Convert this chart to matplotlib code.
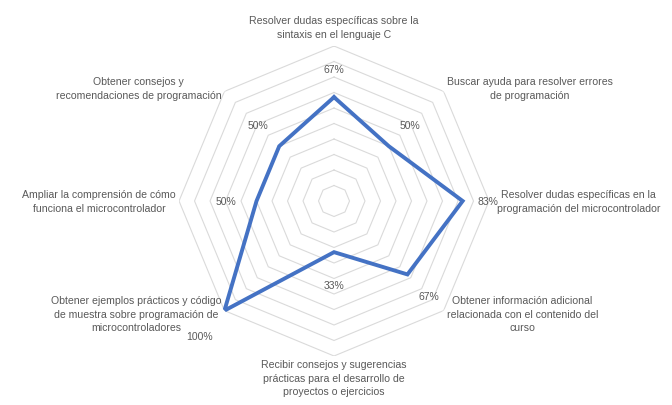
import numpy as np
import matplotlib
matplotlib.use("Agg")
import matplotlib.pyplot as plt

plt.rcParams['font.family'] = ['Liberation Sans', 'DejaVu Sans']

# categories clockwise from the top
categories = [
    "Resolver dudas específicas sobre la\nsintaxis en el lenguaje C",
    "Buscar ayuda para resolver errores\nde programación",
    "Resolver dudas específicas en la\nprogramación del microcontrolador",
    "Obtener información adicional\nrelacionada con el contenido del\ncurso",
    "Recibir consejos y sugerencias\nprácticas para el desarrollo de\nproyectos o ejercicios",
    "Obtener ejemplos prácticos y código\nde muestra sobre programación de\nmicrocontroladores",
    "Ampliar la comprensión de cómo\nfunciona el microcontrolador",
    "Obtener consejos y\nrecomendaciones de programación",
]
values = [0.67, 0.50, 0.83, 0.67, 0.33, 1.00, 0.50, 0.50]
value_labels = ["67%", "50%", "83%", "67%", "33%", "100%", "50%", "50%"]
grid_levels = [0.1, 0.2, 0.3, 0.4, 0.5, 0.6, 0.7, 0.8, 0.9, 1.0]

# label placement (radius, ha, va) per category
label_pos = [
    (1.045, 'center', 'bottom'),
    (1.03, 'left', 'center'),
    (1.05, 'left', 'center'),
    (1.03, 'left', 'center'),
    (1.02, 'center', 'top'),
    (1.03, 'right', 'center'),
    (1.02, 'right', 'center'),
    (1.03, 'right', 'center'),
]
# radial offset of each data label
label_offset = [0.18, 0.19, 0.16, 0.20, 0.21, 0.23, 0.20, 0.19]

txt_color = '#595959'
n = len(categories)
theta = np.linspace(0, 2 * np.pi, n, endpoint=False)
theta_closed = np.append(theta, theta[0])

fig = plt.figure(figsize=(6.72, 4.06), dpi=100)
ax = fig.add_axes([0.2664, 0.1207, 0.4613, 0.7635], projection='polar')
ax.set_theta_offset(np.pi / 2)
ax.set_theta_direction(-1)
ax.set_ylim(0, 1)
ax.grid(False)
ax.set_xticks([])
ax.set_yticks([])
ax.spines['polar'].set_visible(False)
ax.patch.set_alpha(0)

# octagonal gridlines
for lv in grid_levels:
    ax.plot(theta_closed, [lv] * (n + 1), color='#dadada', lw=0.8, zorder=1)

# data series
vals_closed = values + values[:1]
ax.plot(theta_closed, vals_closed, color='#4472C4', lw=2.8,
        solid_joinstyle='miter', zorder=3)

# data labels
for t, v, off, lab in zip(theta, values, label_offset, value_labels):
    ax.text(t, v + off, lab, ha='center', va='center', fontsize=7.5,
            color=txt_color, zorder=4, clip_on=False)

# category labels
for t, cat, (r, ha, va) in zip(theta, categories, label_pos):
    ax.text(t, r, cat, ha=ha, va=va, multialignment='center',
            fontsize=7.6, color=txt_color, linespacing=1.45, clip_on=False)

fig.savefig('out.png', dpi=100)
